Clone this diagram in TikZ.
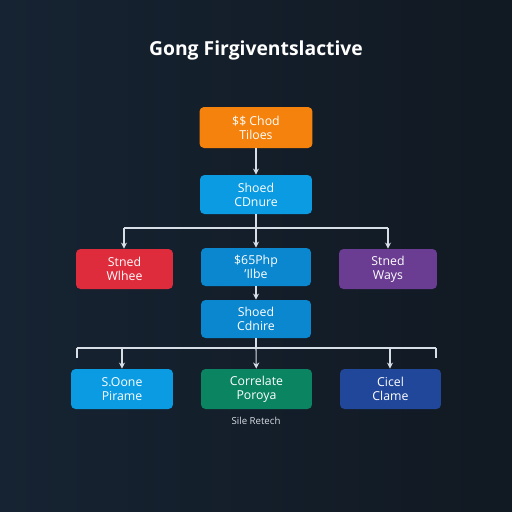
\documentclass[tikz,border=0pt]{standalone}
\usepackage{fontspec}
\setmainfont{Open Sans}
\usepackage{tikz}
\usetikzlibrary{arrows.meta,calc}

\definecolor{bgL}{HTML}{162332}
\definecolor{bgR}{HTML}{111922}
\definecolor{lineC}{HTML}{D8DEE6}
\definecolor{boxOrange}{HTML}{F5820C}
\definecolor{boxBlue}{HTML}{0A9BE2}
\definecolor{boxMid}{HTML}{0B87CF}
\definecolor{boxRed}{HTML}{DE2C3C}
\definecolor{boxPurple}{HTML}{6A3C92}
\definecolor{boxGreen}{HTML}{0B8462}
\definecolor{boxNavy}{HTML}{21479A}

\tikzset{
    box/.style={rounded corners=0.09cm, text=white, align=center,
        font=\fontsize{7}{8}\selectfont, inner sep=0pt},
    link/.style={draw=lineC, line width=0.6pt},
    arr/.style={link, -{Stealth[length=3.5pt,width=3.5pt]}}
}

\begin{document}
\begin{tikzpicture}[x=0.02cm, y=-0.02cm]
    %% Background
    \fill[left color=bgL, right color=bgR] (0,0) rectangle (512,512);
    \useasboundingbox (0,0) rectangle (512,512);
    \node[text=white, font=\fontsize{11}{13}\selectfont\bfseries] (title) at (256,50) {Gong Firgiventslactive};
    %% Boxes
    \node[box, fill=boxOrange, minimum width=2.26cm, minimum height=0.82cm] (top) at (256,127.5) {\$\$ Chod\\Tiloes};
    \node[box, fill=boxBlue, minimum width=2.24cm, minimum height=0.78cm] (mida) at (256,194.5) {Shoed\\CDnure};
    \node[box, fill=boxRed, minimum width=1.94cm, minimum height=0.8cm] (lefta) at (124.5,269) {Stned\\Wlhee};
    \node[box, fill=boxMid, minimum width=2.2cm, minimum height=0.76cm] (cena) at (256,267) {\$65Php\\'Ilbe};
    \node[box, fill=boxPurple, minimum width=1.96cm, minimum height=0.8cm] (righta) at (388,269) {Stned\\Ways};
    \node[box, fill=boxMid, minimum width=2.2cm, minimum height=0.76cm] (midb) at (256,319) {Shoed\\Cdnire};
    \node[box, fill=boxBlue, minimum width=2.04cm, minimum height=0.8cm] (leftb) at (122,389) {S.Oone\\Pirame};
    \node[box, fill=boxGreen, minimum width=2.22cm, minimum height=0.8cm] (cenb) at (256.5,389) {Correlate\\Poroya};
    \node[box, fill=boxNavy, minimum width=2.02cm, minimum height=0.8cm] (rightb) at (390.5,389) {Cicel\\Clame};
    \node[text=lineC, font=\fontsize{5.5}{6}\selectfont] (note) at (256,421) {Sile Retech};
    %% Bus points
    \coordinate (busa) at (256,228);
    \coordinate (busaL) at (124,228);
    \coordinate (busaR) at (388,228);
    \coordinate (busb) at (256,348);
    \coordinate (busbL) at (77,348);
    \coordinate (busbR) at (436,348);
    \coordinate (busbl) at (122,348);
    \coordinate (busbr) at (390,348);
    %% Connectors
    \draw[arr] (top) to (mida);
    \draw[link] (mida) to (busa);
    \draw[link] (busaL) to (busaR);
    \draw[arr] (busaL) to (busaL |- lefta.north);
    \draw[arr] (busa) to (cena);
    \draw[arr] (busaR) to (busaR |- righta.north);
    \draw[arr] (cena) to (midb);
    \draw[link] (midb) to (busb);
    \draw[link] (busbL) to (busbR);
    \draw[link] (busbL) to ++(0,10);
    \draw[link] (busbR) to ++(0,10);
    \draw[arr] (busbl) to (busbl |- leftb.north);
    \draw[arr] (busb) to (cenb);
    \draw[arr] (busbr) to (busbr |- rightb.north);
\end{tikzpicture}
\end{document}
